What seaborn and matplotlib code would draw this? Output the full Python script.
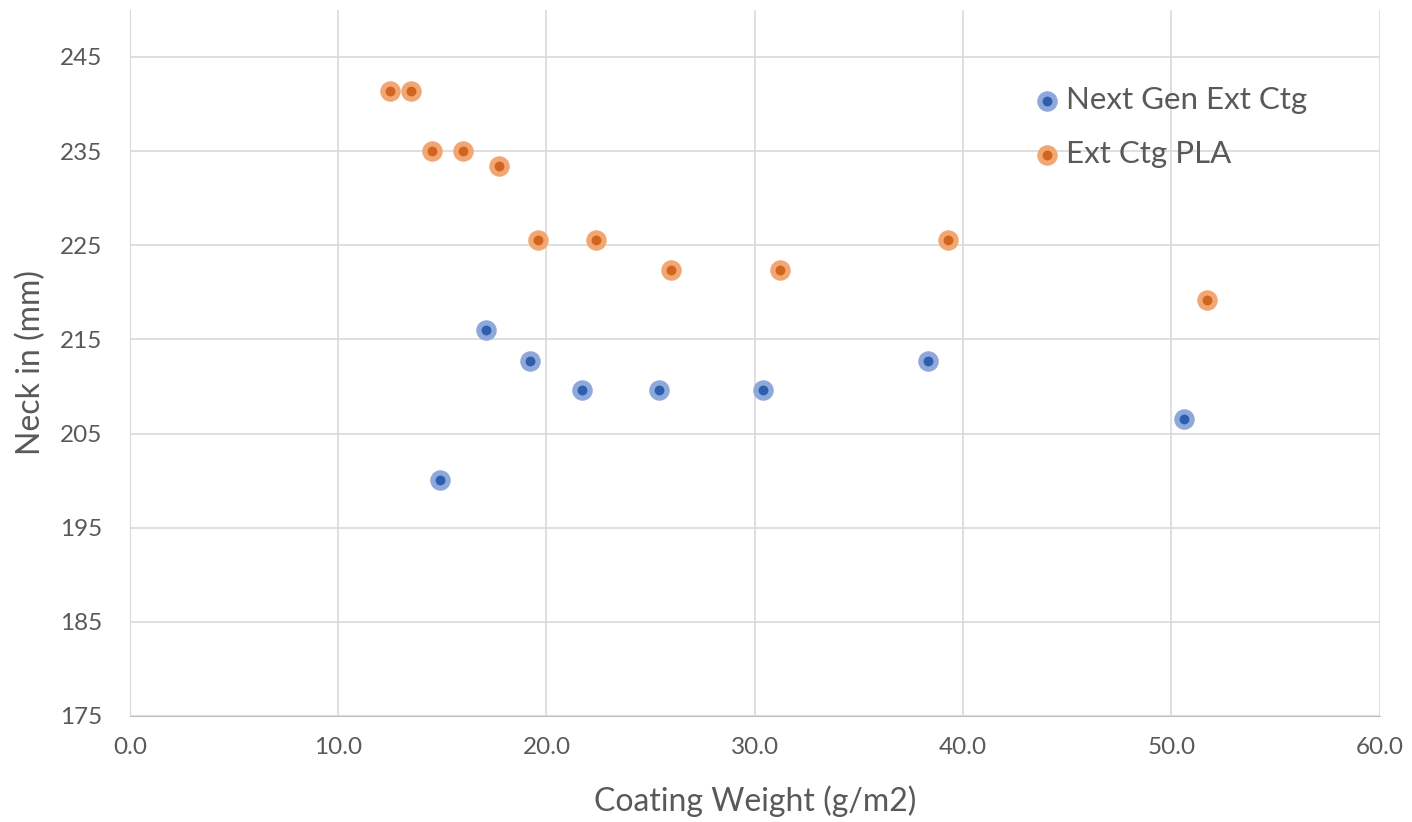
"""
Neck in vs coating weight for the two extrusion coatings.
"""

import matplotlib.pyplot as plt
import pandas as pd
import seaborn as sns
from matplotlib.ticker import FormatStrFormatter

# Next Gen Ext Ctg
next_gen_weight = [14.9, 17.1, 19.2, 21.7, 25.4, 30.4, 38.3, 50.6]
next_gen_neck = [200.1, 216.0, 212.7, 209.6, 209.6, 209.6, 212.7, 206.5]

# Ext Ctg PLA
pla_weight = [12.5, 13.5, 14.5, 16.0, 17.7, 19.6, 22.4, 26.0, 31.2, 39.3, 51.7]
pla_neck = [241.4, 241.4, 235.0, 235.0, 233.4, 225.6, 225.6, 222.4, 222.4, 225.6, 219.2]

x_ticks = [0, 10, 20, 30, 40, 50, 60]
y_ticks = [175, 185, 195, 205, 215, 225, 235, 245]

df_next = pd.DataFrame({"weight": next_gen_weight, "neck": next_gen_neck})
df_pla = pd.DataFrame({"weight": pla_weight, "neck": pla_neck})

sns.set_style("white")
plt.rcParams["font.family"] = ["Lato", "DejaVu Sans"]

fig, ax = plt.subplots(figsize=(14.12, 8.22), dpi=100)
fig.subplots_adjust(left=0.092, right=0.977, top=0.988, bottom=0.129)

sns.scatterplot(x="weight", y="neck", data=df_next, ax=ax, s=120,
                color="#2F5EAE", edgecolor="#8EA8DA",
                linewidth=3.8, label="Next Gen Ext Ctg", zorder=3)
sns.scatterplot(x="weight", y="neck", data=df_pla, ax=ax, s=120,
                color="#CF6520", edgecolor="#F2A773",
                linewidth=3.8, label="Ext Ctg PLA", zorder=3)

ax.set_xlim(0, 60)
ax.set_ylim(175, 250)
ax.set_xticks(x_ticks)
ax.set_yticks(y_ticks)
ax.xaxis.set_major_formatter(FormatStrFormatter("%.1f"))
ax.grid(True, color="#D9D9D9", linewidth=1.2, zorder=0)
ax.set_axisbelow(True)
for side in ["top", "right"]:
    ax.spines[side].set_visible(False)
ax.spines["left"].set_color("#D9D9D9")
ax.spines["bottom"].set_color("#BFBFBF")
ax.tick_params(axis="both", length=0, labelsize=17.5, labelcolor="#595959")
ax.tick_params(axis="y", pad=20)
ax.tick_params(axis="x", pad=15)

ax.set_xlabel("Coating Weight (g/m2)", fontsize=23, color="#595959", labelpad=20)
ax.set_ylabel("Neck in (mm)", fontsize=23, color="#595959", labelpad=10)

leg = ax.legend(loc="upper left", bbox_to_anchor=(0.714, 0.91), frameon=False,
                fontsize=22.5, labelspacing=0.85, handletextpad=0.2,
                handlelength=0.8, borderaxespad=0)
for t in leg.get_texts():
    t.set_color("#595959")

plt.savefig("out.png")
